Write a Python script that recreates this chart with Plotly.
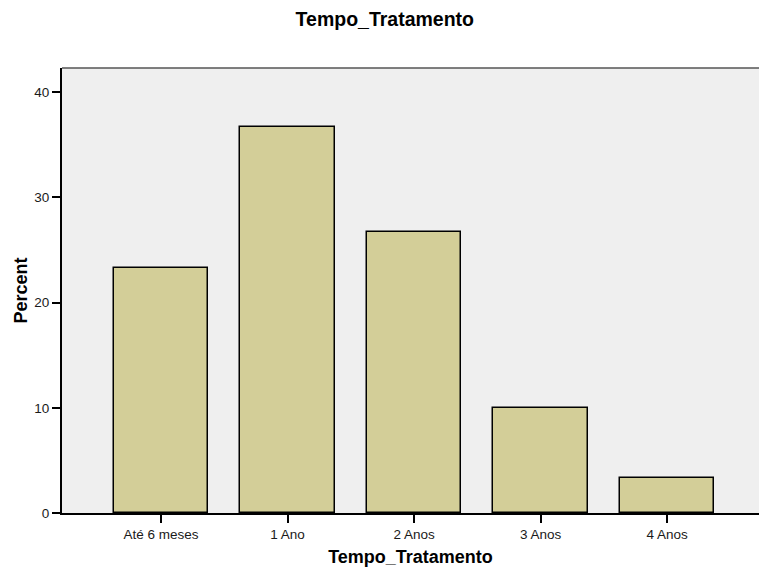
import plotly.graph_objects as go

categorias = ['Até 6 meses', '1 Ano', '2 Anos', '3 Anos', '4 Anos']
percentuais = [23.33, 36.67, 26.67, 10.0, 3.33]
ticks_y = [0, 10, 20, 30, 40]

fig = go.Figure(go.Bar(
    x=categorias, y=percentuais, width=0.75,
    marker=dict(color='#d3ce98', line=dict(color='#000000', width=1.5)),
))

fig.update_layout(
    width=759, height=575,
    margin=dict(l=62, r=0, t=68, b=62),
    paper_bgcolor='white', plot_bgcolor='#efefef',
    font=dict(family='Liberation Sans, Arial, sans-serif', color='#1a1a1a', size=13.5),
    title=dict(text='<b>Tempo_Tratamento</b>', x=0.507, xanchor='center', y=0.967, yanchor='middle',
               font=dict(size=19.5, color='#000000')),
    showlegend=False,
    bargap=0,
)

fig.update_xaxes(
    range=[-0.783, 4.727], showgrid=False, zeroline=False,
    showline=True, linecolor='#000000', linewidth=2,
    ticks='outside', ticklen=8, tickwidth=2, tickcolor='#000000',
    title=dict(text='<b>Tempo_Tratamento</b>', font=dict(size=18, color='#000000'), standoff=9),
)
fig.update_yaxes(
    range=[0, 42.3], tickvals=ticks_y, showgrid=False, zeroline=False,
    showline=True, linecolor='#000000', linewidth=2,
    ticks='outside', ticklen=8, tickwidth=2, tickcolor='#000000',
    title=dict(text='<b>Percent</b>', font=dict(size=18, color='#000000'), standoff=2),
)

# borda superior da área do gráfico
fig.add_shape(type='line', xref='paper', yref='paper', x0=0, x1=1, y0=1, y1=1,
              line=dict(color='#555555', width=1.5))

fig.write_html('out.html', config={'displayModeBar': False},
               post_script="document.body.style.margin='0';")
